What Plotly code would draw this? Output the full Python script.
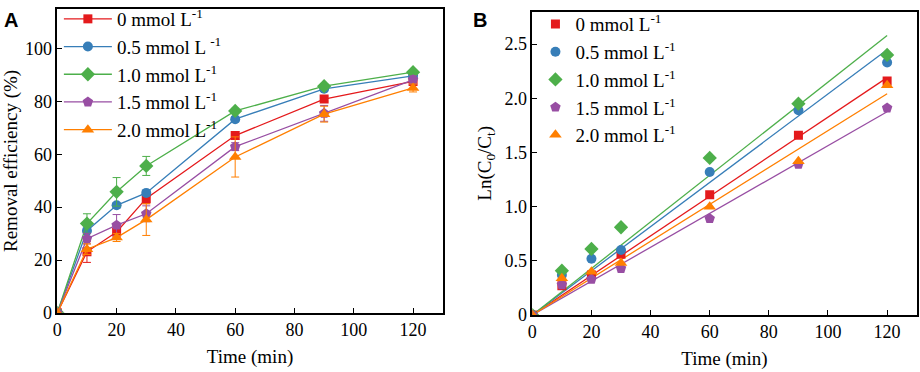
import numpy as np
import plotly.graph_objects as go

time = [0, 10, 20, 30, 60, 90, 120]
labels = ["0 mmol L<sup>-1</sup>", "0.5 mmol L <sup>-1</sup>", "1.0 mmol L<sup>-1</sup>",
          "1.5 mmol L<sup>-1</sup>", "2.0 mmol L<sup>-1</sup>"]
labels_b = ["0 mmol L<sup>-1</sup>", "0.5 mmol L<sup>-1</sup>", "1.0 mmol L<sup>-1</sup>",
            "1.5 mmol L<sup>-1</sup>", "2.0 mmol L<sup>-1</sup>"]

# Panel A: removal efficiency (%)
eff_0 = [0, 23.1, 30.6, 43.3, 67.1, 80.9, 87.6]
eff_05 = [0, 31.1, 40.7, 45.4, 73.3, 84.8, 89.7]
eff_10 = [0, 33.8, 45.8, 55.6, 76.4, 85.8, 91.1]
eff_15 = [0, 28.1, 33.2, 37.5, 62.9, 75.5, 88.2]
eff_20 = [0, 24.1, 28.5, 35.3, 59.0, 75.2, 85.1]

err_0 = [0, 4.0, 2.0, 2.0, 1.5, 1.0, 1.0]
err_05 = [0, 1.0, 1.0, 1.0, 1.0, 1.0, 1.0]
err_10 = [0, 3.7, 5.4, 3.6, 1.0, 1.0, 1.0]
err_15 = [0, 2.0, 4.0, 3.0, 1.5, 3.0, 1.5]
err_20 = [0, 2.0, 1.5, 6.0, 7.6, 3.0, 1.5]

# Panel B: Ln(C0/Ct)
ln_0 = [0, 0.27, 0.37, 0.56, 1.11, 1.66, 2.16]
ln_05 = [0, 0.37, 0.52, 0.60, 1.32, 1.89, 2.33]
ln_10 = [0, 0.41, 0.61, 0.81, 1.45, 1.95, 2.40]
ln_15 = [0, 0.28, 0.33, 0.43, 0.89, 1.39, 1.91]
ln_20 = [0, 0.34, 0.40, 0.48, 1.00, 1.42, 2.12]

colors = ["#e41a1c", "#377eb8", "#4daf4a", "#984ea3", "#ff7f00"]
symbols = ["square", "circle", "diamond", "pentagon", "triangle-up"]
msizes = [9, 10, 11, 11, 11]

effs = [eff_0, eff_05, eff_10, eff_15, eff_20]
errs = [err_0, err_05, err_10, err_15, err_20]
lns = [ln_0, ln_05, ln_10, ln_15, ln_20]

FONT = "Liberation Serif"
fig = go.Figure()

for i in range(5):
    fig.add_trace(go.Scatter(
        x=time, y=effs[i], mode="lines+markers", name=labels[i],
        line=dict(color=colors[i], width=1.3),
        marker=dict(symbol=symbols[i], size=msizes[i], color=colors[i]),
        error_y=dict(type="data", array=errs[i], color=colors[i], thickness=1, width=4),
        xaxis="x", yaxis="y", legend="legend",
    ))

t_arr = np.array(time, dtype=float)
for i in range(5):
    y = np.array(lns[i])
    k = float(np.sum(t_arr * y) / np.sum(t_arr ** 2))
    fig.add_trace(go.Scatter(
        x=[0, 120], y=[0, k * 120], mode="lines", showlegend=False,
        line=dict(color=colors[i], width=1.3), xaxis="x2", yaxis="y2",
    ))
for i in range(5):
    fig.add_trace(go.Scatter(
        x=time, y=lns[i], mode="markers", name=labels_b[i],
        marker=dict(symbol=symbols[i], size=msizes[i], color=colors[i]),
        xaxis="x2", yaxis="y2", legend="legend2",
    ))

axis_common = dict(showline=True, linecolor="black", linewidth=1.5, mirror=True,
                   ticks="inside", ticklen=5, tickwidth=1.2, tickcolor="black",
                   showgrid=False, zeroline=False, automargin=False,
                   tickfont=dict(family=FONT, size=18, color="black"))
TF = dict(family=FONT, size=19, color="black")

fig.update_layout(
    width=920, height=372,
    margin=dict(l=0, r=0, t=0, b=0),
    paper_bgcolor="white", plot_bgcolor="white",
    font=dict(family=FONT, size=18, color="black"),
    xaxis=dict(domain=[0.0623, 0.4812], range=[0, 130], tickvals=[0, 20, 40, 60, 80, 100, 120],
               title=dict(text="Time (min)", font=TF, standoff=10),
               anchor="y", **axis_common),
    yaxis=dict(domain=[0.162, 0.9946], range=[0, 115], tickvals=[0, 20, 40, 60, 80, 100],
               title=dict(text="Removal efficiency (%)", font=TF, standoff=4),
               anchor="x", **axis_common),
    xaxis2=dict(domain=[0.5786, 0.9964], range=[0, 130], tickvals=[0, 20, 40, 60, 80, 100, 120],
                title=dict(text="Time (min)", font=TF, standoff=10),
                anchor="y2", **axis_common),
    yaxis2=dict(domain=[0.156, 0.9874], range=[0, 2.8], tickvals=[0, 0.5, 1.0, 1.5, 2.0, 2.5],
                ticktext=["0", "0.5", "1.0", "1.5", "2.0", "2.5"],
                title=dict(text="Ln(C<sub>0</sub>/C<sub>t</sub>)", font=TF, standoff=8),
                anchor="x2", **axis_common),
    legend=dict(x=0.064, y=1.02, xanchor="left", yanchor="top", bgcolor="rgba(0,0,0,0)",
                font=dict(family=FONT, size=19), tracegroupgap=0, itemwidth=48),
    legend2=dict(x=0.582, y=1.005, xanchor="left", yanchor="top", bgcolor="rgba(0,0,0,0)",
                 font=dict(family=FONT, size=19), tracegroupgap=0),
    annotations=[
        dict(text="<b>A</b>", x=0.002, y=1.0, xref="paper", yref="paper", xanchor="left", yanchor="top",
             showarrow=False, font=dict(family="Liberation Sans", size=20, color="black")),
        dict(text="<b>B</b>", x=0.512, y=1.0, xref="paper", yref="paper", xanchor="left", yanchor="top",
             showarrow=False, font=dict(family="Liberation Sans", size=20, color="black")),
    ],
)

fig.write_html("out.html", config={"displayModeBar": False},
               post_script="document.body.style.margin='0';document.body.style.overflow='hidden';")
